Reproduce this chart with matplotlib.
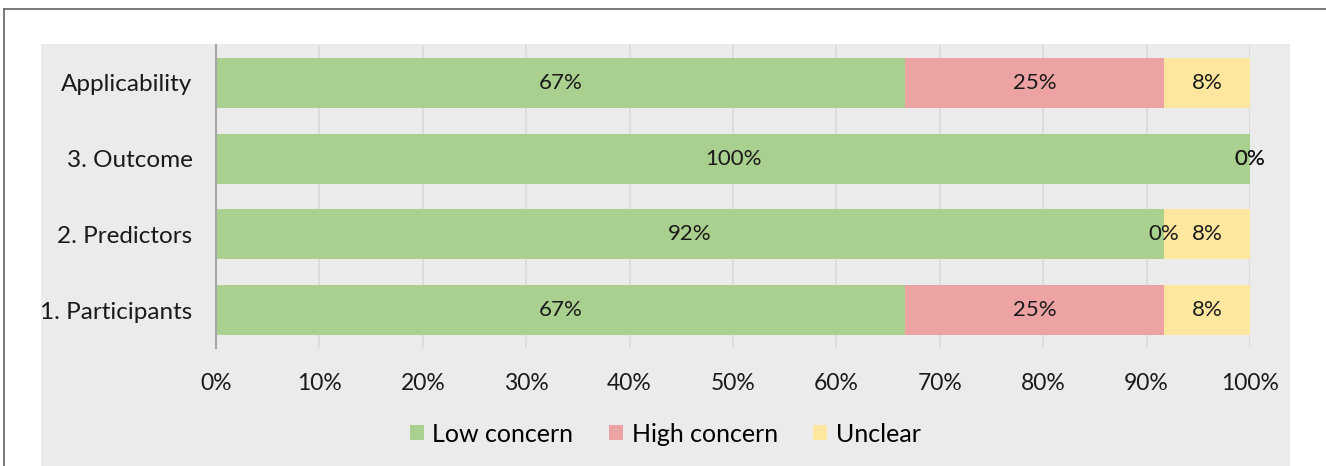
import matplotlib
matplotlib.use("Agg")
import matplotlib.pyplot as plt
from matplotlib.patches import Rectangle
from matplotlib.lines import Line2D
import numpy as np

plt.rcParams['font.family'] = ['Lato', 'DejaVu Sans']

# Number of studies (out of 12) per rating, per domain
domains = ["1. Participants", "2. Predictors", "3. Outcome", "Applicability"]
low_concern = [8, 11, 12, 8]
high_concern = [3, 0, 0, 3]
unclear = [1, 1, 0, 1]
n_studies = 12

series_names = ["Low concern", "High concern", "Unclear"]
series_colors = ["#a9d08e", "#eda3a3", "#fde69e"]
x_ticks = [0, 10, 20, 30, 40, 50, 60, 70, 80, 90, 100]

W, H = 1326, 466
fig = plt.figure(figsize=(W / 100, H / 100), dpi=100)
fig.patch.set_facecolor("white")

# Chart frame: grey panel and thin outer border
fig.patches.append(Rectangle((41 / W, 0), (1290 - 41) / W, (H - 44) / H,
                             transform=fig.transFigure, facecolor="#ebebeb",
                             edgecolor="none", zorder=-5))
fig.lines.append(Line2D([4 / W, 1], [1 - 9 / H, 1 - 9 / H], transform=fig.transFigure,
                        color="#6f6f6f", lw=1.3, zorder=-4))
fig.lines.append(Line2D([4 / W, 4 / W], [0, 1 - 9 / H], transform=fig.transFigure,
                        color="#6f6f6f", lw=1.3, zorder=-4))

ax = fig.add_axes([216 / W, (H - 348) / H, (1250 - 216) / W, (348 - 45) / H])
ax.set_facecolor("none")

pcts = [np.array(s, dtype=float) / n_studies * 100 for s in (low_concern, high_concern, unclear)]
y = np.arange(len(domains))
left = np.zeros(len(domains))
for vals, name, col in zip(pcts, series_names, series_colors):
    ax.barh(y, vals, left=left, height=0.66, color=col, label=name, zorder=2)
    for yi, v, l in zip(y, vals, left):
        ax.text(l + v / 2, yi, f"{v:.0f}%", ha="center", va="center",
                fontsize=16, color="#1a1a1a", zorder=3)
    left = left + vals

ax.set_xlim(0, 100)
ax.set_ylim(-0.5, len(domains) - 0.5)
ax.set_xticks(x_ticks)
ax.set_xticklabels([f"{t}%" for t in x_ticks])
ax.set_yticks(y)
ax.set_yticklabels(domains)
ax.tick_params(axis="x", length=0, pad=18, labelsize=16.5, labelcolor="#1a1a1a")
ax.tick_params(axis="y", length=0, pad=17, labelsize=17.5, labelcolor="#1a1a1a")
ax.grid(axis="x", color="#d9d9d9", lw=1.2, zorder=1)
ax.set_axisbelow(True)
for side in ("top", "right", "bottom"):
    ax.spines[side].set_visible(False)
ax.spines["left"].set_color("#a6a6a6")
ax.spines["left"].set_linewidth(1.5)
ax.spines["left"].set_zorder(4)

handles, labels = ax.get_legend_handles_labels()
fig.legend(handles, labels, loc="center", bbox_to_anchor=(665 / W, 1 - 434 / H),
           ncol=3, frameon=False, fontsize=18, handlelength=0.56, handleheight=0.56,
           handletextpad=0.36, columnspacing=1.4)

fig.savefig("out.png", dpi=100)
